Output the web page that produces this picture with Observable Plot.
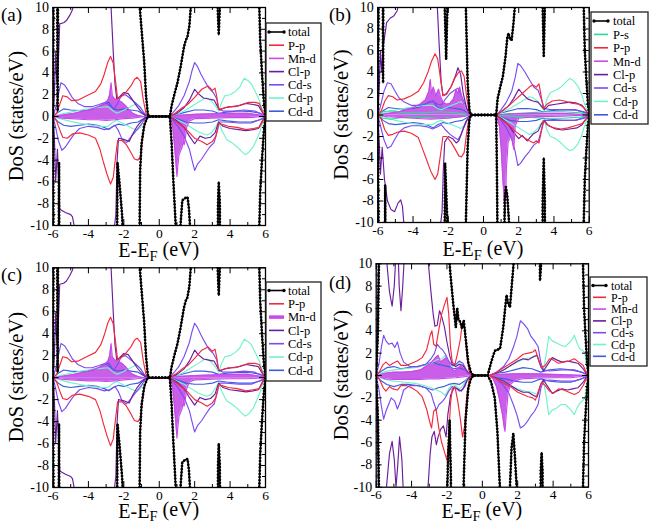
<!DOCTYPE html>
<html><head><meta charset="utf-8">
<script src="https://cdn.jsdelivr.net/npm/d3@7"></script>
<script src="https://cdn.jsdelivr.net/npm/@observablehq/plot@0.6"></script>
<style>
body{margin:0;background:#fff}
#fig{position:relative;width:653px;height:526px;overflow:hidden;background:#fff}
.panel{position:absolute}
</style>
</head><body><div id="fig"></div>
<script>
// ---------- tick labels ----------
const xMajor = [-6,-4,-2,0,2,4,6];
const xMinor = [-5,-3,-1,1,3,5];
const yMajor = [-10,-8,-6,-4,-2,0,2,4,6,8,10];
const yMinor = [-9,-7,-5,-3,-1,1,3,5,7,9];

// ---------- species ----------
const SPECIES = ["total","P-s","P-p","Mn-d","Cl-p","Cd-s","Cd-p","Cd-d"];
const COLORS  = ["#000000","#2ed89a","#f22a3c","#c84ae8","#6b1d9e","#7b4cf0","#72f2ca","#3b5de0"];
const MN_FILL = "#c95ee9";

// ---------- panel (a) / (c) : [E, DoS] ----------
const A_tot_up = [[-6,0],[-5.97,12],[-5.93,40],[-5.8,40],[-5.74,0.5],[-5.66,40],[-3,40],[-1.3,40],[-1.1,10],[-0.95,7],[-0.85,5],[-0.75,2],[-0.65,0.3],[-0.6,0],[0.6,0],[0.7,1],[0.85,2],[1.03,3.1],[1.2,4.5],[1.4,6.4],[1.5,7.0],[1.59,7.3],[1.7,8.3],[1.77,9.8],[1.9,13],[2.2,40],[3.2,40],[3.3,10],[3.36,7.5],[3.42,10],[3.5,40],[5.55,40],[5.62,12],[5.7,7],[5.8,4],[5.9,1.5],[6,0]];
const A_tot_dn = [[-6,0],[-5.97,-12],[-5.93,-40],[-5.72,-40],[-5.66,-4.2],[-5.6,-40],[-3,-40],[-2.45,-40],[-2.36,-4.2],[-2.25,-6],[-2.1,-9],[-2.0,-12],[-1.8,-40],[-1.2,-40],[-1.12,-12],[-1.08,-5],[-1.0,-2.5],[-0.85,-0.8],[-0.65,0],[0.6,0],[0.7,-2.5],[0.8,-6],[0.93,-10],[1.05,-14],[1.2,-10],[1.3,-7.7],[1.45,-7.5],[1.6,-7.4],[1.68,-8.5],[1.75,-10.5],[1.85,-20],[2.2,-40],[3.25,-40],[3.32,-8],[3.36,-6],[3.42,-8],[3.5,-40],[5.55,-40],[5.62,-12],[5.7,-7],[5.8,-4],[5.9,-1.5],[6,0]];
const A_Pp_up = [[-6,0],[-5.8,0.3],[-5.6,1.2],[-5.45,1.9],[-5.2,1.8],[-4.95,1.45],[-4.6,1.5],[-4.1,1.9],[-3.6,2.3],[-3.3,3.0],[-3.1,3.9],[-2.9,5.0],[-2.75,5.5],[-2.6,4.9],[-2.45,3.0],[-2.35,1.6],[-2.15,1.8],[-1.9,2.2],[-1.6,2.8],[-1.4,3.4],[-1.25,3.6],[-1.05,3.2],[-0.9,1.5],[-0.75,0.3],[-0.6,0],[0.6,0],[0.9,0.3],[1.3,0.8],[1.6,1.1],[2.0,1.75],[2.4,2.5],[2.75,2.8],[3.0,2.4],[3.15,2.6],[3.25,1.8],[3.35,0.7],[3.5,0.7],[3.9,0.9],[4.3,0.9],[4.7,1.1],[5.05,1.3],[5.4,1.3],[5.65,1.2],[5.85,0.4],[6,0]];
const A_Pp_dn = [[-6,0],[-5.8,-0.4],[-5.6,-1.3],[-5.45,-1.9],[-5.2,-2.0],[-4.9,-1.6],[-4.5,-1.5],[-4.0,-1.7],[-3.6,-2.0],[-3.35,-3.0],[-3.15,-4.2],[-2.95,-5.3],[-2.75,-6.2],[-2.6,-5.6],[-2.45,-3.5],[-2.35,-2.2],[-2.1,-2.2],[-1.85,-2.6],[-1.6,-3.3],[-1.4,-3.9],[-1.2,-4.0],[-1.05,-3.6],[-0.9,-1.5],[-0.75,-0.3],[-0.6,0],[0.6,0],[0.9,-0.4],[1.3,-0.9],[1.6,-1.3],[2.0,-2.0],[2.4,-2.3],[2.7,-2.6],[3.0,-2.3],[3.2,-1.8],[3.35,-0.6],[3.5,-0.7],[3.9,-0.9],[4.4,-1.0],[4.9,-1.2],[5.3,-1.1],[5.65,-1.0],[5.85,-0.4],[6,0]];
const A_Mnd_up = [[-6,0],[-5.6,0.1],[-5.2,0.2],[-4.8,0.3],[-4.4,0.45],[-4.0,0.6],[-3.6,0.8],[-3.3,1.0],[-3.1,1.2],[-2.9,1.5],[-2.8,2.0],[-2.72,3.1],[-2.65,1.9],[-2.5,1.6],[-2.3,1.5],[-2.1,1.3],[-1.9,1.0],[-1.7,0.6],[-1.5,0.3],[-1.2,0.1],[-0.9,0],[0.6,0],[1.0,0.1],[2.0,0.2],[3.0,0.25],[4.0,0.3],[5.0,0.3],[5.8,0.1],[6,0]];
const A_Mnd_dn = [[-6,0],[-5.5,-0.15],[-5.0,-0.2],[-4.5,-0.25],[-4.0,-0.3],[-3.5,-0.3],[-3.0,-0.35],[-2.5,-0.3],[-2.0,-0.2],[-1.5,-0.15],[-1.0,-0.05],[-0.8,0],[0.6,0],[0.75,-0.8],[0.85,-2.5],[0.93,-4.0],[1.0,-5.5],[1.05,-4.5],[1.12,-3.5],[1.2,-3.2],[1.3,-2.8],[1.35,-2.0],[1.4,-2.6],[1.45,-2.3],[1.55,-1.0],[1.7,-0.4],[2.0,-0.2],[3.0,-0.15],[4.0,-0.1],[5.0,-0.1],[6,0]];
const A_Clp_up = [[-6,0],[-5.92,2],[-5.85,5.9],[-5.78,3],[-5.7,5],[-5.62,8.5],[-5.4,8.6],[-5.24,8.8],[-5.05,9.3],[-4.9,9.8],[-4.75,11],[-4.3,14],[-3.5,15],[-3.0,14],[-2.8,11],[-2.72,10],[-2.6,6],[-2.5,3],[-2.4,1.6],[-2.25,1.8],[-2.0,2.2],[-1.75,2.1],[-1.5,1.5],[-1.25,0.9],[-1.0,0.4],[-0.75,0.05],[-0.6,0],[0.6,0],[1.0,0.3],[1.4,0.8],[1.7,1.5],[2.0,2.5],[2.2,2.1],[2.5,1.7],[2.8,1.6],[3.1,1.5],[3.3,0.9],[3.4,0.6],[3.7,0.8],[4.1,0.9],[4.5,1.0],[4.9,1.2],[5.3,1.1],[5.6,1.0],[5.85,0.3],[6,0]];
const A_Clp_dn = [[-6,0],[-5.92,-2],[-5.85,-6],[-5.75,-3],[-5.62,-8.5],[-5.3,-8.8],[-5.0,-9],[-4.9,-9.2],[-4.75,-10.5],[-4.3,-14],[-3.5,-15],[-3.0,-14],[-2.6,-11],[-2.45,-9],[-2.38,-4],[-2.3,-2],[-2.0,-2.1],[-1.7,-2.3],[-1.5,-1.6],[-1.25,-0.9],[-1.0,-0.4],[-0.75,-0.05],[-0.6,0],[0.6,0],[1.0,-0.4],[1.4,-1.0],[1.7,-1.8],[2.0,-2.5],[2.3,-1.8],[2.6,-2.0],[2.9,-1.9],[3.15,-1.5],[3.35,-0.5],[3.6,-0.9],[4.0,-1.1],[4.5,-1.2],[4.9,-1.3],[5.3,-1.2],[5.6,-1.1],[5.85,-0.3],[6,0]];
const A_Cds_up = [[-6,0],[-5.85,0.8],[-5.7,2.0],[-5.55,3.1],[-5.35,2.9],[-5.15,2.4],[-4.9,1.7],[-4.6,1.2],[-4.2,0.9],[-3.8,0.9],[-3.4,1.1],[-3.05,1.3],[-2.8,1.0],[-2.55,0.7],[-2.35,1.2],[-2.15,1.9],[-1.9,2.0],[-1.6,1.6],[-1.3,1.2],[-1.05,0.8],[-0.85,0.3],[-0.65,0],[0.55,0],[0.8,0.4],[1.1,1.0],[1.4,1.9],[1.7,3.2],[1.85,4.2],[2.0,4.95],[2.15,4.6],[2.35,3.9],[2.55,3.3],[2.8,2.6],[3.05,2.2],[3.25,1.6],[3.35,0.7],[3.6,0.5],[4.2,0.5],[4.8,0.6],[5.4,0.5],[5.8,0.2],[6,0]];
const A_Cds_dn = [[-6,0],[-5.85,-1.0],[-5.7,-2.2],[-5.5,-3.1],[-5.3,-2.8],[-5.1,-2.3],[-4.8,-1.6],[-4.5,-1.1],[-4.0,-0.9],[-3.5,-1.0],[-3.1,-1.2],[-2.8,-1.1],[-2.5,-0.8],[-2.3,-1.3],[-2.1,-2.1],[-1.85,-2.4],[-1.6,-1.9],[-1.3,-1.3],[-1.05,-0.8],[-0.85,-0.3],[-0.65,0],[0.55,0],[0.8,-0.4],[1.1,-1.0],[1.4,-1.8],[1.7,-3.0],[1.85,-4.0],[2.0,-4.95],[2.15,-4.4],[2.4,-3.9],[2.6,-3.4],[2.85,-2.8],[3.1,-2.4],[3.3,-1.2],[3.4,-0.5],[3.8,-0.5],[4.5,-0.6],[5.2,-0.6],[5.8,-0.2],[6,0]];
const A_Cdp_up = [[-6,0],[-5.6,0.2],[-5.0,0.4],[-4.4,0.6],[-3.8,0.75],[-3.3,0.85],[-2.9,0.9],[-2.6,0.5],[-2.4,0.3],[-2.1,0.5],[-1.8,0.75],[-1.5,1.0],[-1.3,1.15],[-1.1,0.9],[-0.9,0.4],[-0.7,0.05],[-0.6,0],[0.6,0],[1.0,0.2],[1.4,0.5],[1.8,0.9],[2.2,1.3],[2.5,1.6],[2.7,1.7],[2.95,1.4],[3.2,0.9],[3.35,0.5],[3.5,1.2],[3.7,1.9],[4.0,2.0],[4.3,2.3],[4.55,2.7],[4.8,3.5],[5.0,3.3],[5.2,3.0],[5.45,2.2],[5.65,1.5],[5.85,0.5],[6,0]];
const A_Cdp_dn = [[-6,0],[-5.6,-0.2],[-5.0,-0.45],[-4.4,-0.65],[-3.8,-0.8],[-3.3,-0.9],[-2.9,-0.9],[-2.6,-0.5],[-2.4,-0.35],[-2.1,-0.6],[-1.8,-0.85],[-1.5,-1.1],[-1.25,-1.25],[-1.05,-1.0],[-0.9,-0.4],[-0.7,-0.05],[-0.6,0],[0.6,0],[1.0,-0.3],[1.4,-0.6],[1.8,-1.0],[2.2,-1.4],[2.5,-1.6],[2.7,-1.7],[2.95,-1.5],[3.2,-0.9],[3.35,-0.5],[3.55,-1.3],[3.8,-2.1],[4.1,-2.4],[4.4,-2.8],[4.65,-3.2],[4.85,-3.5],[5.05,-3.3],[5.3,-2.8],[5.5,-2.1],[5.7,-1.3],[5.85,-0.5],[6,0]];
const A_Cdd_up = [[-6,0],[-5.7,0.4],[-5.4,0.7],[-5.0,0.6],[-4.5,0.55],[-4.0,0.6],[-3.5,0.8],[-3.1,1.2],[-2.85,1.3],[-2.6,0.7],[-2.3,0.6],[-2.0,0.7],[-1.6,0.6],[-1.2,0.5],[-0.9,0.2],[-0.7,0],[0.6,0],[1.0,0.2],[1.5,0.4],[2.0,0.6],[2.5,0.6],[3.0,0.5],[3.35,0.3],[3.8,0.4],[4.5,0.5],[5.2,0.45],[5.7,0.3],[6,0]];
const A_Cdd_dn = [[-6,0],[-5.7,-0.5],[-5.4,-0.8],[-5.0,-0.9],[-4.5,-0.8],[-4.0,-0.7],[-3.5,-0.8],[-3.1,-1.0],[-2.85,-1.2],[-2.6,-0.9],[-2.3,-0.7],[-2.0,-0.8],[-1.6,-0.6],[-1.2,-0.5],[-0.9,-0.2],[-0.7,0],[0.6,0],[1.0,-0.2],[1.5,-0.5],[2.0,-0.6],[2.5,-0.6],[3.0,-0.5],[3.35,-0.3],[3.8,-0.4],[4.5,-0.5],[5.2,-0.5],[5.7,-0.3],[6,0]];

// ---------- panel (b) ----------
const B_tot_up = [[-6,0],[-5.95,12],[-5.9,40],[-5.75,40],[-5.7,3],[-5.65,40],[-3,40],[-2.3,40],[-2.2,10],[-2.12,5.2],[-2.05,10],[-1.95,40],[-1.2,40],[-1.0,10],[-0.9,3],[-0.8,0.5],[-0.72,0],[0.72,0],[0.8,1.5],[0.95,2.6],[1.1,3.6],[1.25,5.4],[1.35,7.2],[1.42,7.6],[1.52,7.0],[1.6,7.0],[1.7,8.5],[1.8,10.5],[2.0,40],[3.3,40],[3.36,10],[3.42,5.5],[3.48,10],[3.55,40],[5.6,40],[5.66,12],[5.75,6],[5.85,3],[5.93,1],[6,0]];
const B_tot_dn = [[-6,0],[-5.95,-12],[-5.9,-40],[-5.65,-40],[-5.58,-6.5],[-5.52,-40],[-3,-40],[-2.3,-40],[-2.18,-4.5],[-2.05,-10],[-1.95,-40],[-1.2,-40],[-1.0,-10],[-0.9,-3],[-0.8,-0.5],[-0.72,0],[0.72,0],[0.76,-5],[0.8,-12],[0.9,-40],[1.1,-40],[1.2,-8],[1.27,-6.7],[1.35,-7.5],[1.45,-10],[1.55,-40],[3.3,-40],[3.36,-8],[3.42,-4.0],[3.48,-8],[3.55,-40],[5.6,-40],[5.66,-12],[5.75,-6],[5.85,-3],[5.93,-1],[6,0]];
const B_Ps_up = [[-6,0],[-5.7,0.3],[-5.3,0.4],[-4.5,0.2],[-3.5,0.2],[-2.5,0.3],[-1.5,0.2],[-0.8,0],[0.75,0],[1.5,0.1],[2.5,0.2],[3.5,0.3],[4.5,0.3],[5.5,0.2],[6,0]];
const B_Ps_dn = [[-6,0],[-5.7,-0.3],[-5.3,-0.4],[-4.5,-0.2],[-3.5,-0.2],[-2.5,-0.3],[-1.5,-0.2],[-0.8,0],[0.75,0],[1.5,-0.1],[2.5,-0.2],[3.5,-0.3],[4.5,-0.3],[5.5,-0.2],[6,0]];
const B_Pp_up = [[-6,0],[-5.8,0.4],[-5.6,1.3],[-5.4,1.8],[-5.15,1.7],[-4.9,1.4],[-4.5,1.5],[-4.1,1.8],[-3.7,2.2],[-3.4,3.0],[-3.15,4.0],[-2.95,5.0],[-2.75,5.7],[-2.6,5.2],[-2.45,3.5],[-2.3,1.8],[-2.1,1.9],[-1.85,2.6],[-1.6,3.5],[-1.4,4.0],[-1.25,4.1],[-1.1,3.6],[-0.95,1.6],[-0.82,0.3],[-0.72,0],[0.72,0],[1.0,0.3],[1.4,0.8],[1.8,1.4],[2.2,2.0],[2.6,2.6],[2.8,2.8],[3.0,2.6],[3.15,2.9],[3.3,1.5],[3.4,0.6],[3.6,1.0],[3.9,1.3],[4.3,1.4],[4.6,1.3],[5.0,1.1],[5.4,1.0],[5.7,0.7],[5.9,0.2],[6,0]];
const B_Pp_dn = [[-6,0],[-5.8,-0.4],[-5.6,-1.4],[-5.4,-1.9],[-5.15,-1.8],[-4.9,-1.6],[-4.5,-1.5],[-4.1,-1.7],[-3.7,-2.1],[-3.45,-3.2],[-3.2,-4.3],[-3.0,-5.2],[-2.75,-6.0],[-2.6,-5.5],[-2.45,-3.8],[-2.3,-2.0],[-2.1,-2.0],[-1.85,-2.5],[-1.6,-3.2],[-1.4,-3.8],[-1.25,-3.9],[-1.1,-3.5],[-0.95,-1.6],[-0.82,-0.3],[-0.72,0],[0.72,0],[1.0,-0.4],[1.4,-0.9],[1.8,-1.5],[2.2,-2.0],[2.6,-2.4],[2.85,-2.6],[3.0,-2.4],[3.15,-2.6],[3.3,-1.4],[3.4,-0.5],[3.6,-0.9],[4.0,-1.2],[4.4,-1.3],[4.8,-1.2],[5.2,-1.0],[5.6,-0.8],[5.85,-0.3],[6,0]];
const B_Mnd_up = [[-6,0],[-5.6,0.1],[-5.2,0.2],[-4.8,0.3],[-4.4,0.5],[-4.0,0.7],[-3.6,1.0],[-3.3,1.4],[-3.1,2.2],[-3.02,3.3],[-2.95,2.0],[-2.85,2.6],[-2.7,1.8],[-2.55,2.4],[-2.45,1.8],[-2.3,1.2],[-2.1,1.0],[-1.9,1.1],[-1.7,1.5],[-1.55,2.4],[-1.45,2.0],[-1.35,2.6],[-1.25,1.8],[-1.1,0.8],[-0.9,0.1],[-0.75,0],[0.75,0],[1.5,0.1],[3,0.15],[4.5,0.15],[6,0]];
const B_Mnd_dn = [[-6,0],[-5.5,-0.15],[-5,-0.2],[-4.5,-0.25],[-4,-0.3],[-3.5,-0.35],[-3.0,-0.4],[-2.5,-0.35],[-2.0,-0.3],[-1.5,-0.2],[-1.0,-0.1],[-0.8,0],[0.75,0],[0.9,-1.0],[1.0,-3.0],[1.1,-6.0],[1.18,-8.0],[1.24,-9.2],[1.3,-5.0],[1.4,-2.5],[1.55,-2.0],[1.65,-2.5],[1.72,-3.2],[1.8,-1.0],[2.0,-0.3],[3.0,-0.15],[4.5,-0.1],[6,0]];
const B_Clp_up = [[-6,0],[-5.92,2.5],[-5.85,6],[-5.78,4],[-5.68,6.5],[-5.5,8.6],[-5.3,9.0],[-5.1,9.2],[-4.9,9.7],[-4.75,11],[-4.3,14],[-3.5,15],[-3.0,14],[-2.75,11],[-2.62,10],[-2.5,6],[-2.4,3],[-2.3,1.8],[-2.1,2.0],[-1.85,2.6],[-1.6,3.6],[-1.45,4.4],[-1.3,3.8],[-1.15,2.0],[-0.95,0.6],[-0.8,0.1],[-0.72,0],[0.72,0],[1.0,0.3],[1.4,0.8],[1.7,1.5],[2.0,2.4],[2.2,2.0],[2.5,1.5],[2.8,1.3],[3.1,1.2],[3.3,0.8],[3.45,0.5],[3.7,0.9],[4.1,1.0],[4.5,1.1],[4.9,1.2],[5.3,1.1],[5.6,0.9],[5.85,0.3],[6,0]];
const B_Clp_dn = [[-6,0],[-5.92,-2.5],[-5.85,-5.5],[-5.75,-3],[-5.62,-6],[-5.45,-8],[-5.25,-8.8],[-5.05,-9.0],[-4.85,-8.2],[-4.7,-7.9],[-4.6,-8.5],[-4.5,-10.5],[-4.2,-14],[-3.5,-15],[-3.0,-14],[-2.5,-11],[-2.35,-9],[-2.28,-5],[-2.2,-2.5],[-2.0,-2.0],[-1.75,-2.2],[-1.55,-2.6],[-1.4,-2.4],[-1.2,-1.5],[-1.0,-0.6],[-0.8,-0.1],[-0.72,0],[0.72,0],[1.0,-0.3],[1.4,-0.9],[1.7,-1.6],[2.0,-2.2],[2.2,-1.9],[2.48,-2.4],[2.8,-1.8],[3.1,-1.5],[3.3,-0.8],[3.45,-0.5],[3.7,-1.0],[4.1,-1.3],[4.5,-1.4],[4.9,-1.3],[5.3,-1.2],[5.6,-0.9],[5.85,-0.3],[6,0]];
const B_Cds_up = [[-6,0],[-5.85,0.8],[-5.65,2.2],[-5.45,3.0],[-5.25,2.9],[-5.05,2.3],[-4.8,1.6],[-4.5,1.2],[-4.1,0.9],[-3.6,0.9],[-3.2,1.1],[-2.9,1.3],[-2.6,1.0],[-2.4,0.9],[-2.2,1.4],[-1.9,2.0],[-1.65,2.3],[-1.45,2.5],[-1.3,2.0],[-1.1,1.2],[-0.9,0.4],[-0.75,0],[0.75,0],[1.0,0.5],[1.3,1.2],[1.6,2.2],[1.8,3.5],[1.95,4.8],[2.1,4.6],[2.35,4.0],[2.6,3.3],[2.85,2.6],[3.1,2.3],[3.3,1.4],[3.45,0.6],[3.8,0.5],[4.5,0.5],[5.2,0.5],[5.8,0.2],[6,0]];
const B_Cds_dn = [[-6,0],[-5.85,-1.0],[-5.65,-2.3],[-5.45,-3.1],[-5.25,-2.9],[-5.05,-2.3],[-4.8,-1.6],[-4.5,-1.2],[-4.1,-1.0],[-3.6,-1.0],[-3.2,-1.1],[-2.9,-1.3],[-2.6,-1.1],[-2.4,-0.9],[-2.2,-1.3],[-1.9,-1.8],[-1.65,-2.1],[-1.45,-2.3],[-1.3,-1.9],[-1.1,-1.1],[-0.9,-0.4],[-0.75,0],[0.75,0],[1.0,-0.5],[1.3,-1.2],[1.6,-2.2],[1.8,-3.4],[1.95,-4.7],[2.1,-4.5],[2.35,-3.9],[2.6,-3.4],[2.85,-2.8],[3.1,-2.5],[3.3,-1.3],[3.45,-0.5],[3.8,-0.5],[4.5,-0.5],[5.2,-0.5],[5.8,-0.2],[6,0]];
const B_Cdp_up = [[-6,0],[-5.5,0.25],[-5.0,0.45],[-4.4,0.65],[-3.8,0.8],[-3.3,0.9],[-2.9,0.9],[-2.6,0.6],[-2.4,0.5],[-2.1,0.7],[-1.8,0.9],[-1.5,1.1],[-1.3,1.25],[-1.1,1.0],[-0.9,0.4],[-0.75,0],[0.75,0],[1.1,0.3],[1.5,0.6],[1.9,1.0],[2.3,1.4],[2.6,1.7],[2.8,1.6],[3.05,1.3],[3.3,0.7],[3.45,0.4],[3.6,1.5],[3.8,2.1],[4.1,2.3],[4.4,2.6],[4.7,3.1],[4.9,3.4],[5.1,3.2],[5.35,2.7],[5.55,2.0],[5.7,1.2],[5.85,0.5],[6,0]];
const B_Cdp_dn = [[-6,0],[-5.5,-0.25],[-5.0,-0.5],[-4.4,-0.7],[-3.8,-0.85],[-3.3,-0.9],[-2.9,-0.9],[-2.6,-0.6],[-2.4,-0.5],[-2.1,-0.7],[-1.8,-0.9],[-1.5,-1.1],[-1.3,-1.25],[-1.1,-1.0],[-0.9,-0.4],[-0.75,0],[0.75,0],[1.1,-0.3],[1.5,-0.7],[1.9,-1.1],[2.3,-1.5],[2.6,-1.8],[2.8,-1.7],[3.05,-1.3],[3.3,-0.7],[3.45,-0.4],[3.6,-1.4],[3.8,-2.0],[4.1,-2.2],[4.4,-2.6],[4.7,-3.1],[4.9,-3.3],[5.1,-3.2],[5.35,-2.7],[5.55,-2.0],[5.7,-1.2],[5.85,-0.5],[6,0]];

// ---------- panel (d) ----------
const D_tot_up = [[-6,0],[-5.9,4],[-5.8,15],[-5.72,40],[-2.2,40],[-1.95,12],[-1.8,9],[-1.65,6.5],[-1.5,4.3],[-1.42,6],[-1.35,5],[-1.25,4.8],[-1.15,4.2],[-1.05,4.9],[-0.92,3],[-0.8,1.2],[-0.65,0.3],[-0.5,0],[0.3,0],[0.5,1.2],[0.7,2.2],[1.0,2.4],[1.18,4.3],[1.3,6.2],[1.37,7.2],[1.45,6.5],[1.56,6.1],[1.66,8],[1.75,9.7],[1.85,12],[2.2,40],[3.2,40],[3.26,8.5],[3.32,10],[3.4,40],[5.6,40],[5.66,12],[5.75,6],[5.85,3],[5.93,1],[6,0]];
const D_tot_dn = [[-6,0],[-5.9,-4],[-5.8,-15],[-5.72,-40],[-2.3,-40],[-2.05,-15],[-1.95,-8],[-1.85,-4],[-1.78,-9],[-1.72,-30],[-1.3,-30],[-1.1,-12],[-0.95,-4],[-0.8,-1.2],[-0.65,-0.3],[-0.5,0],[0.3,0],[0.5,-0.6],[0.7,-2],[0.85,-5],[0.99,-10],[1.2,-14],[1.45,-12],[1.56,-10],[1.65,-6.5],[1.75,-5.2],[1.85,-7.5],[1.94,-10],[2.1,-40],[3.25,-40],[3.3,-8.5],[3.35,-6.9],[3.4,-8.5],[3.48,-40],[5.6,-40],[5.66,-12],[5.75,-6],[5.85,-3],[5.93,-1],[6,0]];
const D_Pp_up = [[-6,0],[-5.8,0.4],[-5.6,1.0],[-5.45,1.2],[-5.25,0.9],[-5.05,1.1],[-4.8,1.3],[-4.6,0.9],[-4.3,0.9],[-4.0,1.1],[-3.7,1.3],[-3.4,1.6],[-3.15,2.3],[-2.95,3.6],[-2.85,4.0],[-2.75,2.8],[-2.62,2.6],[-2.45,4.2],[-2.3,5.5],[-2.15,6.3],[-2.0,7.0],[-1.9,5.5],[-1.8,2.5],[-1.7,1.2],[-1.55,1.0],[-1.4,2.0],[-1.25,3.2],[-1.12,4.8],[-1.0,4.2],[-0.88,1.8],[-0.75,0.4],[-0.6,0],[0.4,0],[0.8,0.3],[1.2,0.7],[1.6,1.1],[2.0,1.5],[2.3,1.9],[2.6,2.0],[2.85,2.1],[3.0,2.3],[3.15,1.5],[3.35,0.7],[3.55,0.9],[3.8,1.5],[4.0,1.4],[4.3,1.1],[4.6,1.2],[4.9,1.3],[5.2,1.5],[5.45,1.2],[5.7,0.9],[5.9,0.2],[6,0]];
const D_Pp_dn = [[-6,0],[-5.8,-0.4],[-5.6,-1.1],[-5.45,-1.4],[-5.25,-1.0],[-5.05,-1.2],[-4.8,-1.3],[-4.6,-0.9],[-4.3,-0.9],[-4.0,-1.1],[-3.7,-1.4],[-3.4,-1.9],[-3.15,-3.0],[-2.95,-4.3],[-2.87,-4.7],[-2.75,-3.2],[-2.62,-3.0],[-2.45,-4.8],[-2.3,-6.0],[-2.15,-6.8],[-2.0,-7.6],[-1.9,-5.5],[-1.8,-2.5],[-1.7,-1.2],[-1.55,-1.0],[-1.4,-2.2],[-1.25,-3.8],[-1.12,-5.5],[-1.0,-4.5],[-0.88,-1.8],[-0.75,-0.4],[-0.6,0],[0.4,0],[0.8,-0.3],[1.2,-0.7],[1.6,-1.0],[2.0,-1.5],[2.3,-1.7],[2.6,-1.9],[2.85,-2.0],[3.0,-2.2],[3.15,-1.5],[3.35,-0.6],[3.55,-0.9],[3.8,-1.4],[4.0,-1.6],[4.3,-1.2],[4.6,-1.3],[4.9,-1.5],[5.2,-1.7],[5.45,-1.5],[5.7,-0.9],[5.9,-0.2],[6,0]];
const D_Mnd_up = [[-6,0],[-5.5,0.2],[-5.0,0.3],[-4.5,0.3],[-4.0,0.35],[-3.5,0.5],[-3.2,0.8],[-3.0,1.0],[-2.8,1.3],[-2.65,1.6],[-2.5,1.8],[-2.35,1.2],[-2.2,1.4],[-2.05,1.6],[-1.9,1.2],[-1.75,0.6],[-1.55,0.4],[-1.35,0.7],[-1.2,0.9],[-1.05,0.6],[-0.85,0.2],[-0.6,0],[0.4,0],[1.0,0.1],[2.0,0.15],[3.0,0.15],[4.0,0.1],[6,0]];
const D_Mnd_dn = [[-6,0],[-5.5,-0.3],[-5.0,-0.35],[-4.5,-0.35],[-4.0,-0.35],[-3.5,-0.35],[-3.0,-0.3],[-2.5,-0.3],[-2.0,-0.25],[-1.5,-0.2],[-1.0,-0.1],[-0.6,0],[0.4,0],[0.6,-0.3],[0.8,-1.0],[0.95,-2.0],[1.05,-2.8],[1.15,-3.6],[1.22,-4.5],[1.28,-5.0],[1.35,-3.5],[1.45,-1.6],[1.6,-0.8],[1.8,-0.5],[2.2,-0.3],[3.0,-0.25],[4.0,-0.2],[5.0,-0.2],[6,0]];
const D_Clp_up = [[-6,0],[-5.92,5],[-5.85,14],[-5.6,14],[-5.42,10.5],[-5.25,7.5],[-5.1,6.2],[-4.98,8],[-4.88,11],[-4.78,12],[-4.7,8],[-4.6,5.8],[-4.5,8],[-4.4,11],[-4.2,14],[-3.6,15],[-3.2,12],[-3.05,10],[-2.9,7.4],[-2.78,5.5],[-2.68,4.4],[-2.55,4.5],[-2.42,5.8],[-2.3,5.3],[-2.15,4.4],[-2.0,3.0],[-1.85,1.8],[-1.7,1.0],[-1.5,0.8],[-1.3,1.0],[-1.1,0.9],[-0.9,0.4],[-0.7,0.05],[-0.55,0],[0.4,0],[0.8,0.2],[1.2,0.5],[1.6,0.9],[2.0,1.3],[2.3,1.5],[2.6,1.4],[2.9,1.7],[3.1,1.8],[3.3,0.8],[3.45,0.4],[3.7,1.0],[3.95,1.6],[4.2,1.4],[4.5,1.2],[4.8,1.3],[5.1,1.2],[5.4,1.1],[5.7,0.6],[5.9,0.1],[6,0]];
const D_Clp_dn = [[-6,0],[-5.92,-5],[-5.85,-14],[-5.6,-14],[-5.42,-10],[-5.25,-7],[-5.1,-5.9],[-4.98,-7.5],[-4.88,-10],[-4.78,-8],[-4.68,-5.5],[-4.55,-7.5],[-4.45,-11],[-4.2,-14],[-3.6,-15],[-3.2,-12],[-3.05,-9.5],[-2.95,-7],[-2.85,-5.5],[-2.72,-5.0],[-2.6,-6.2],[-2.5,-5.5],[-2.35,-4.8],[-2.2,-4.5],[-2.05,-5.5],[-1.95,-3.5],[-1.8,-1.8],[-1.6,-1.1],[-1.4,-1.2],[-1.2,-1.4],[-1.0,-1.0],[-0.85,-0.4],[-0.7,-0.05],[-0.55,0],[0.4,0],[0.8,-0.2],[1.2,-0.5],[1.6,-0.9],[2.0,-1.3],[2.3,-1.5],[2.6,-1.5],[2.9,-1.8],[3.1,-1.9],[3.3,-0.8],[3.45,-0.4],[3.7,-1.0],[3.95,-1.6],[4.2,-1.4],[4.5,-1.2],[4.8,-1.3],[5.1,-1.2],[5.4,-1.1],[5.7,-0.6],[5.9,-0.1],[6,0]];
const D_Cds_up = [[-6,0],[-5.85,1.0],[-5.7,2.6],[-5.58,3.6],[-5.45,3.1],[-5.3,2.8],[-5.1,2.9],[-4.95,2.5],[-4.8,3.0],[-4.65,2.0],[-4.45,1.2],[-4.1,0.8],[-3.6,0.8],[-3.2,1.0],[-2.9,1.5],[-2.7,2.0],[-2.55,2.8],[-2.4,2.5],[-2.25,2.3],[-2.05,1.8],[-1.9,1.3],[-1.7,0.9],[-1.5,1.0],[-1.3,1.3],[-1.1,1.1],[-0.9,0.5],[-0.7,0.1],[-0.55,0],[0.4,0],[0.8,0.3],[1.2,0.8],[1.5,1.5],[1.75,2.5],[1.95,3.5],[2.15,4.9],[2.35,4.6],[2.55,4.2],[2.75,3.5],[2.95,3.1],[3.15,2.6],[3.3,1.2],[3.45,0.5],[3.8,0.4],[4.5,0.5],[5.2,0.5],[5.8,0.2],[6,0]];
const D_Cds_dn = [[-6,0],[-5.85,-1.2],[-5.7,-2.8],[-5.58,-3.9],[-5.45,-3.2],[-5.3,-2.6],[-5.15,-2.0],[-4.95,-2.3],[-4.8,-3.0],[-4.65,-2.4],[-4.45,-1.3],[-4.1,-0.9],[-3.6,-0.9],[-3.2,-1.1],[-2.9,-1.6],[-2.75,-2.4],[-2.6,-3.1],[-2.45,-2.6],[-2.3,-2.4],[-2.1,-2.0],[-1.9,-1.4],[-1.7,-1.0],[-1.5,-1.1],[-1.3,-1.4],[-1.1,-1.2],[-0.9,-0.5],[-0.7,-0.1],[-0.55,0],[0.4,0],[0.8,-0.3],[1.2,-0.9],[1.5,-1.6],[1.75,-2.6],[1.95,-3.5],[2.15,-4.7],[2.35,-4.5],[2.55,-4.1],[2.75,-3.6],[2.95,-3.2],[3.15,-2.6],[3.3,-1.2],[3.45,-0.5],[3.8,-0.4],[4.5,-0.5],[5.2,-0.5],[5.8,-0.2],[6,0]];
const D_Cdp_up = [[-6,0],[-5.6,0.3],[-5.0,0.5],[-4.4,0.6],[-3.8,0.7],[-3.3,0.9],[-2.9,1.1],[-2.6,1.4],[-2.3,1.5],[-2.1,1.8],[-1.9,1.2],[-1.7,0.8],[-1.5,0.9],[-1.3,1.2],[-1.1,0.9],[-0.9,0.4],[-0.7,0.05],[-0.55,0],[0.4,0],[0.8,0.2],[1.2,0.5],[1.6,0.9],[2.0,1.2],[2.4,1.5],[2.8,1.6],[3.1,1.8],[3.3,0.8],[3.45,0.5],[3.6,1.8],[3.75,3.5],[3.95,3.1],[4.2,2.9],[4.45,2.7],[4.7,2.6],[4.95,3.0],[5.1,3.3],[5.2,3.6],[5.35,2.9],[5.5,2.4],[5.7,2.2],[5.8,2.0],[5.9,0.8],[6,0]];
const D_Cdp_dn = [[-6,0],[-5.6,-0.3],[-5.0,-0.5],[-4.4,-0.6],[-3.8,-0.7],[-3.3,-0.9],[-2.9,-1.1],[-2.6,-1.3],[-2.3,-1.5],[-2.1,-1.8],[-1.9,-1.2],[-1.7,-0.8],[-1.5,-0.9],[-1.3,-1.2],[-1.1,-0.9],[-0.9,-0.4],[-0.7,-0.05],[-0.55,0],[0.4,0],[0.8,-0.2],[1.2,-0.5],[1.6,-0.9],[2.0,-1.2],[2.4,-1.4],[2.8,-1.5],[3.1,-1.7],[3.3,-0.8],[3.45,-0.5],[3.6,-1.8],[3.75,-3.5],[3.95,-3.1],[4.2,-2.9],[4.45,-2.6],[4.7,-2.6],[4.95,-3.0],[5.1,-3.3],[5.2,-3.5],[5.35,-2.9],[5.5,-2.5],[5.7,-2.2],[5.8,-2.0],[5.9,-0.8],[6,0]];
const D_Cdd_up = [[-6,0],[-5.7,0.4],[-5.4,0.7],[-5.0,0.8],[-4.6,0.6],[-4.2,0.7],[-3.7,0.8],[-3.2,1.0],[-2.8,1.2],[-2.5,1.0],[-2.2,0.9],[-1.9,0.8],[-1.6,0.6],[-1.3,0.7],[-1.0,0.5],[-0.8,0.2],[-0.6,0],[0.4,0],[0.8,0.2],[1.3,0.3],[1.8,0.5],[2.3,0.7],[2.8,0.6],[3.3,0.3],[3.8,0.5],[4.4,0.6],[5.0,0.5],[5.6,0.3],[6,0]];
const D_Cdd_dn = [[-6,0],[-5.7,-0.5],[-5.4,-0.8],[-5.0,-1.0],[-4.6,-0.8],[-4.2,-0.8],[-3.7,-0.9],[-3.2,-1.1],[-2.8,-1.3],[-2.5,-1.1],[-2.2,-1.0],[-1.9,-0.8],[-1.6,-0.7],[-1.3,-0.8],[-1.0,-0.5],[-0.8,-0.2],[-0.6,0],[0.4,0],[0.8,-0.2],[1.3,-0.3],[1.8,-0.5],[2.3,-0.6],[2.8,-0.6],[3.3,-0.3],[3.8,-0.5],[4.4,-0.6],[5.0,-0.6],[5.6,-0.3],[6,0]];

// ---------- layout ----------
const FONT = "'Liberation Serif','Times New Roman',serif";
const SERIES_A = [["Cd-d",A_Cdd_up,A_Cdd_dn],["Cd-p",A_Cdp_up,A_Cdp_dn],["Cd-s",A_Cds_up,A_Cds_dn],["Cl-p",A_Clp_up,A_Clp_dn],["Mn-d",A_Mnd_up,A_Mnd_dn],["P-p",A_Pp_up,A_Pp_dn],["total",A_tot_up,A_tot_dn]];
const SERIES_B = [["Cd-d",A_Cdd_up,A_Cdd_dn],["Cd-p",B_Cdp_up,B_Cdp_dn],["P-s",B_Ps_up,B_Ps_dn],["Cd-s",B_Cds_up,B_Cds_dn],["Cl-p",B_Clp_up,B_Clp_dn],["Mn-d",B_Mnd_up,B_Mnd_dn],["P-p",B_Pp_up,B_Pp_dn],["total",B_tot_up,B_tot_dn]];
const SERIES_D = [["Cd-d",D_Cdd_up,D_Cdd_dn],["Cd-p",D_Cdp_up,D_Cdp_dn],["Cd-s",D_Cds_up,D_Cds_dn],["Cl-p",D_Clp_up,D_Clp_dn],["Mn-d",D_Mnd_up,D_Mnd_dn],["P-p",D_Pp_up,D_Pp_dn],["total",D_tot_up,D_tot_dn]];
const LEG7 = ["total","P-p","Mn-d","Cl-p","Cd-s","Cd-p","Cd-d"];
const LEG8 = ["total","P-s","P-p","Mn-d","Cl-p","Cd-s","Cd-p","Cd-d"];

const PANELS = [
  {letter:"(a)", left:0, top:0, width:323, height:262, frame:[52.5,265,7,225], letterPos:[1,21], ylabX:16, titleY:257, series:SERIES_A,
   legend:{names:LEG7, x:266, y:23, w:55, h:98, row0:32, dy:13.2, sw:[269,284], tx:288, fs:12.5}},
  {letter:"(b)", left:323, top:0, width:330, height:262, frame:[377.3,588.7,7,222], letterPos:[329,21], ylabX:341, titleY:256, series:SERIES_B,
   legend:{names:LEG8, x:591, y:12, w:57, h:112, row0:21, dy:13.4, sw:[594,608], tx:613, fs:12.5}},
  {letter:"(c)", left:0, top:260, width:323, height:266, frame:[52.5,265,267.3,487], letterPos:[1,281], ylabX:16, titleY:517.5, series:SERIES_A, thickMn:true,
   legend:{names:LEG7, x:266, y:282, w:55, h:99, row0:290.5, dy:13.3, sw:[269,284], tx:288, fs:12.5}},
  {letter:"(d)", left:323, top:260, width:330, height:266, frame:[375.7,588,263.3,486.7], letterPos:[329,289], ylabX:341, titleY:517.5, series:SERIES_D,
   legend:{names:LEG7, x:590, y:277, w:57, h:89, row0:285.5, dy:11.8, sw:[593,606], tx:611, fs:12}}
];

const fmt = d => (d < 0 ? "-" : "") + Math.abs(d);
const fig = document.getElementById("fig");

for (const p of PANELS) {
  const [fl, fr, ft, fb] = p.frame;
  const fw = fr - fl, fh = fb - ft;
  const mL = fl - p.left, mR = p.left + p.width - fr, mT = ft - p.top, mB = p.top + p.height - fb;
  const lineRows = [], totRows = [], mnRows = [];
  for (const [name, up, dn] of p.series) {
    for (const [spin, arr] of [["up", up], ["dn", dn]]) {
      for (const [e, v] of arr) {
        const r = {e, v, s: name, k: name + spin};
        if (name === "total") totRows.push(r);
        else lineRows.push(r);
        if (name === "Mn-d") mnRows.push(r);
      }
    }
  }
  const tickLen = 6, minLen = 3;
  const svg = Plot.plot({
    width: p.width, height: p.height,
    marginLeft: mL, marginRight: mR, marginTop: mT, marginBottom: mB,
    x: {domain: [-6, 6]},
    y: {domain: [-10, 10]},
    color: {domain: SPECIES, range: COLORS},
    style: {fontFamily: FONT, fontSize: "14px", background: "transparent", overflow: "visible", color: "black"},
    marks: [
      Plot.areaY(mnRows, {x: "e", y: "v", z: "k", fill: MN_FILL, clip: true}),
      Plot.line(lineRows, {x: "e", y: "v", z: "k", stroke: "s", strokeWidth: 1.15, clip: true}),
      Plot.line(totRows, {x: "e", y: "v", z: "k", stroke: "black", strokeWidth: 1.3, clip: true}),
      Plot.line(totRows, {x: "e", y: "v", z: "k", stroke: "black", strokeWidth: 2.8, strokeDasharray: "0,3.2", strokeLinecap: "round", clip: true}),
      Plot.frame({stroke: "black", strokeWidth: 1.3}),
      Plot.tickX(xMajor, {x: d => d, insetTop: fh - tickLen, strokeWidth: 1}),
      Plot.tickX(xMajor, {x: d => d, insetBottom: fh - tickLen, strokeWidth: 1}),
      Plot.tickX(xMinor, {x: d => d, insetTop: fh - minLen, strokeWidth: 1}),
      Plot.tickX(xMinor, {x: d => d, insetBottom: fh - minLen, strokeWidth: 1}),
      Plot.tickY(yMajor, {y: d => d, insetRight: fw - tickLen, strokeWidth: 1}),
      Plot.tickY(yMajor, {y: d => d, insetLeft: fw - tickLen, strokeWidth: 1}),
      Plot.tickY(yMinor, {y: d => d, insetRight: fw - minLen, strokeWidth: 1}),
      Plot.tickY(yMinor, {y: d => d, insetLeft: fw - minLen, strokeWidth: 1}),
      Plot.axisX({ticks: xMajor, tickSize: 0, tickPadding: 2.5, tickFormat: fmt, label: null, fontSize: 13.5}),
      Plot.axisY({ticks: yMajor, tickSize: 0, tickPadding: 4, tickFormat: fmt, label: null, fontSize: 14})
    ]
  });
  const wrap = document.createElement("div");
  wrap.className = "panel";
  wrap.style.left = p.left + "px";
  wrap.style.top = p.top + "px";
  wrap.appendChild(svg);
  fig.appendChild(wrap);

  const g = d3.select(svg).append("g").attr("transform", `translate(${-p.left},${-p.top})`)
    .attr("font-family", FONT).attr("fill", "black").attr("text-anchor", "start");
  // panel letter
  g.append("text").attr("x", p.letterPos[0]).attr("y", p.letterPos[1]).attr("font-size", 19).text(p.letter);
  // y label
  g.append("text").attr("transform", `translate(${p.ylabX},${(ft + fb) / 2}) rotate(-90)`)
    .attr("text-anchor", "middle").attr("dy", "0.35em").attr("font-size", 20.5).text("DoS (states/eV)");
  // x label with subscript
  const t = g.append("text").attr("x", (fl + fr) / 2).attr("y", p.titleY).attr("text-anchor", "middle").attr("font-size", 20);
  t.append("tspan").text("E-E");
  t.append("tspan").attr("font-size", 14.5).attr("dy", "0.25em").text("F");
  t.append("tspan").attr("dy", "-0.25em").text(" (eV)");
  // legend
  const L = p.legend;
  g.append("rect").attr("x", L.x).attr("y", L.y).attr("width", L.w).attr("height", L.h)
    .attr("fill", "white").attr("stroke", "#222").attr("stroke-width", 1.3);
  L.names.forEach((n, i) => {
    const y = L.row0 + i * L.dy;
    const c = COLORS[SPECIES.indexOf(n)];
    const sw = n === "total" ? 1.6 : (n === "Mn-d" && p.thickMn ? 3.5 : 1.6);
    g.append("line").attr("x1", L.sw[0]).attr("x2", L.sw[1]).attr("y1", y).attr("y2", y)
      .attr("stroke", c).attr("stroke-width", sw);
    if (n === "total") {
      g.append("circle").attr("cx", L.sw[0]).attr("cy", y).attr("r", 1.7).attr("fill", "black");
      g.append("circle").attr("cx", L.sw[1]).attr("cy", y).attr("r", 1.7).attr("fill", "black");
    }
    g.append("text").attr("x", L.tx).attr("y", y).attr("dy", "0.35em").attr("font-size", L.fs).text(n);
  });
}
</script>
</body></html>
